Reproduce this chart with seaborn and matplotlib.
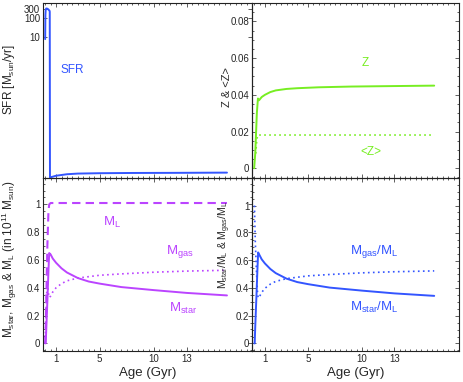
import matplotlib
matplotlib.use("Agg")
import matplotlib.pyplot as plt
import matplotlib.ticker as mticker
import pandas as pd
import seaborn as sns

# ---- data ----
t_sfr = [0.0, 0.02, 0.05, 0.1, 0.2, 0.3, 0.4, 0.42, 0.44, 0.6, 1.0, 2.0, 3.0, 5.0, 8.0, 12.0, 16.7]
sfr = [8, 150, 290, 330, 320, 290, 250, 220, 4.0e-7, 4.3e-7, 5.0e-7, 6.0e-7, 6.5e-7, 6.8e-7, 7.0e-7, 7.1e-7, 7.3e-7]

t_z = [0.0, 0.1, 0.25, 0.35, 0.45, 0.7, 1.0, 1.5, 2.0, 3.0, 4.0, 6.0, 9.0, 12.0, 16.7]
z = [0.0, 0.008, 0.03, 0.038, 0.037, 0.0388, 0.0400, 0.0415, 0.0424, 0.0432, 0.0436, 0.0441, 0.0445, 0.0447, 0.0450]
t_zmean = [0.15, 0.25, 0.35, 1.0, 3.0, 8.0, 16.7]
zmean = [0.008, 0.016, 0.0181, 0.0181, 0.0181, 0.0181, 0.0181]

t_m = [0.0, 0.05, 0.1, 0.2, 0.3, 0.37, 0.5, 0.7, 1.0, 1.5, 2.0, 3.0, 4.0, 5.0, 7.0, 10.0, 13.0, 16.7]
m_inf = [0.0, 0.1, 0.3, 0.7, 0.95, 1.0, 1.01, 1.01, 1.01, 1.01, 1.01, 1.01, 1.01, 1.01, 1.01, 1.01, 1.01, 1.01]
m_star = [0.0, 0.0, 0.1, 0.3, 0.52, 0.65, 0.64, 0.61, 0.58, 0.54, 0.51, 0.47, 0.445, 0.43, 0.405, 0.383, 0.363, 0.345]
m_gas = [0.0, 0.15, 0.3, 0.45, 0.36, 0.33, 0.34, 0.37, 0.40, 0.43, 0.45, 0.47, 0.48, 0.49, 0.50, 0.512, 0.52, 0.526]

t_r = [0.03, 0.05, 0.1, 0.2, 0.3, 0.37, 0.5, 0.7, 1.0, 1.5, 2.0, 3.0, 4.0, 5.0, 7.0, 10.0, 13.0, 16.7]
star_ratio = [0.0, 0.0, 0.12, 0.32, 0.53, 0.66, 0.64, 0.61, 0.58, 0.54, 0.51, 0.47, 0.445, 0.43, 0.405, 0.383, 0.363, 0.345]
gas_ratio = [1.0, 0.92, 0.75, 0.55, 0.38, 0.33, 0.34, 0.37, 0.40, 0.43, 0.45, 0.47, 0.48, 0.49, 0.50, 0.512, 0.52, 0.526]

age_ticks = [1, 5, 10, 13]

BLUE = "#3355ff"
GREEN = "#77ee22"
PURPLE = "#bb44ff"

sns.set_style("ticks")
plt.rcParams['font.family'] = ['Liberation Sans', 'DejaVu Sans']
plt.rcParams['mathtext.fontset'] = 'custom'
plt.rcParams['mathtext.rm'] = 'Liberation Sans'
plt.rcParams['mathtext.it'] = 'Liberation Sans'
plt.rcParams['mathtext.default'] = 'regular'

W, H = 463, 382
fig = plt.figure(figsize=(W / 100, H / 100), dpi=100)
fig.patch.set_facecolor("white")

def px_axes(x0, y0, x1, y1):
    return fig.add_axes([x0 / W, 1 - y1 / H, (x1 - x0) / W, (y1 - y0) / H])

ax_sfr = px_axes(43, 3, 252, 178)
ax_z = px_axes(252, 3, 459, 178)
ax_m = px_axes(43, 178, 252, 351)
ax_r = px_axes(252, 178, 459, 351)

for ax in [ax_sfr, ax_z, ax_m, ax_r]:
    ax.set_facecolor("none")
    ax.set_xlim(-0.2, 19.0)
    for s in ax.spines.values():
        s.set_visible(True)
        s.set_linewidth(0.8)
        s.set_color("#222222")
    ax.tick_params(which="both", direction="in", top=True, right=True,
                   labelsize=7, width=0.6, color="#444444", pad=2)
    ax.tick_params(which="major", length=3)
    ax.tick_params(which="minor", length=1.5)
    ax.xaxis.set_major_locator(mticker.FixedLocator(age_ticks))
    ax.xaxis.set_minor_locator(mticker.MultipleLocator(0.5))
    ax.set_xlabel("")
    ax.set_ylabel("")

# SFR panel
sns.lineplot(x=t_sfr, y=sfr, ax=ax_sfr, color=BLUE, linewidth=1.4, sort=False)
ax_sfr.set_yscale("log")
ax_sfr.set_ylim(3.8e-7, 640)
ax_sfr.yaxis.set_major_locator(mticker.FixedLocator([10, 100, 300]))
ax_sfr.yaxis.set_major_formatter(mticker.FixedFormatter(["10", "100", "300"]))
ax_sfr.yaxis.set_minor_locator(mticker.NullLocator())
ax_sfr.set_xlim(-0.2, 19.0)
ax_sfr.tick_params(labelbottom=False)
ax_sfr.text(2.5, 0.18, "SFR", color=BLUE, fontsize=8.5, ha="center", va="center")
ax_sfr.set_ylabel(r"SFR [M$_{sun}$/yr]", fontsize=8.5)
ax_sfr.yaxis.set_label_coords(-0.125, 0.56)

# metallicity panel
sns.lineplot(x=t_z, y=z, ax=ax_z, color=GREEN, linewidth=1.4, sort=False)
sns.lineplot(x=t_zmean, y=zmean, ax=ax_z, color=GREEN, linewidth=1.2, linestyle=(0, (1, 2)), sort=False)
ax_z.set_ylim(-0.0053, 0.090)
ax_z.yaxis.set_major_locator(mticker.FixedLocator([0, 0.02, 0.04, 0.06, 0.08]))
ax_z.yaxis.set_major_formatter(mticker.FixedFormatter(["0", "0.02", "0.04", "0.06", "0.08"]))
ax_z.yaxis.set_minor_locator(mticker.MultipleLocator(0.005))
ax_z.tick_params(labelbottom=False)
ax_z.text(10.3, 0.0575, "Z", color=GREEN, fontsize=8.5, ha="center", va="center")
ax_z.text(10.8, 0.0091, "<Z>", color=GREEN, fontsize=8.5, ha="center", va="center")
ax_z.set_ylabel("Z & <Z>", fontsize=8)
ax_z.yaxis.set_label_coords(-0.095, 0.52)

# mass panel
sns.lineplot(x=t_m, y=m_inf, ax=ax_m, color=PURPLE, linewidth=1.5, linestyle=(0, (4, 2.5)), sort=False)
sns.lineplot(x=t_m, y=m_star, ax=ax_m, color=PURPLE, linewidth=1.4, sort=False)
sns.lineplot(x=t_m, y=m_gas, ax=ax_m, color=PURPLE, linewidth=1.2, linestyle=(0, (1, 2)), sort=False)
ax_m.set_ylim(-0.055, 1.19)
ax_m.yaxis.set_major_locator(mticker.FixedLocator([0, 0.2, 0.4, 0.6, 0.8, 1.0]))
ax_m.yaxis.set_major_formatter(mticker.FixedFormatter(["0", "0.2", "0.4", "0.6", "0.8", "1"]))
ax_m.yaxis.set_minor_locator(mticker.MultipleLocator(0.05))
ax_m.text(6.1, 0.87, r"M$_L$", color=PURPLE, fontsize=9.5, ha="center", va="center")
ax_m.text(12.4, 0.66, r"M$_{gas}$", color=PURPLE, fontsize=9.5, ha="center", va="center")
ax_m.text(12.7, 0.25, r"M$_{star}$", color=PURPLE, fontsize=9.5, ha="center", va="center")
ax_m.set_ylabel(r"M$_{star}$, M$_{gas}$ & M$_L$ (in 10$^{11}$ M$_{sun}$)", fontsize=8.5)
ax_m.yaxis.set_label_coords(-0.115, 0.53)
ax_m.set_xlabel("Age (Gyr)", fontsize=9.5, labelpad=2)

# ratio panel
sns.lineplot(x=t_r, y=star_ratio, ax=ax_r, color=BLUE, linewidth=1.4, sort=False)
sns.lineplot(x=t_r, y=gas_ratio, ax=ax_r, color=BLUE, linewidth=1.2, linestyle=(0, (1, 2)), sort=False)
ax_r.set_ylim(-0.055, 1.2)
ax_r.yaxis.set_major_locator(mticker.FixedLocator([0, 0.2, 0.4, 0.6, 0.8, 1.0]))
ax_r.yaxis.set_major_formatter(mticker.FixedFormatter(["0", "0.2", "0.4", "0.6", "0.8", "1"]))
ax_r.yaxis.set_minor_locator(mticker.MultipleLocator(0.05))
ax_r.text(11.1, 0.67, r"M$_{gas}$/M$_L$", color=BLUE, fontsize=9.5, ha="center", va="center")
ax_r.text(11.1, 0.26, r"M$_{star}$/M$_L$", color=BLUE, fontsize=9.5, ha="center", va="center")
ax_r.set_ylabel(r"M$_{star}$/M$_L$ & M$_{gas}$/M$_L$", fontsize=7.5)
ax_r.yaxis.set_label_coords(-0.092, 0.61)
ax_r.set_xlabel("Age (Gyr)", fontsize=9.5, labelpad=2)

fig.savefig("out.png", dpi=100, facecolor="white")
